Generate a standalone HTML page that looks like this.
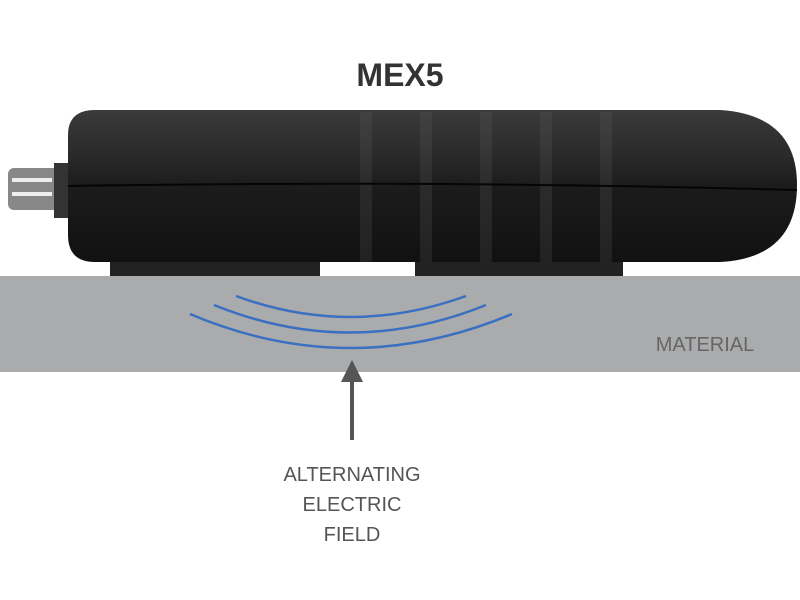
<!DOCTYPE html>
<html><head><style>
body{margin:0;width:800px;height:600px;background:#fff;position:relative;overflow:hidden;font-family:"Liberation Sans",sans-serif}
.t{position:absolute;color:#555;font-size:20px;text-align:center}
</style></head><body>
<div class="t" style="left:300px;top:57px;width:200px;font-size:32px;font-weight:bold;color:#333">MEX5</div>
<svg width="800" height="600" style="position:absolute;left:0;top:0">
<defs>
<linearGradient id="g" x1="0" y1="0" x2="0" y2="1">
<stop offset="0" stop-color="#3a3a3a"/><stop offset="0.3" stop-color="#2a2a2a"/><stop offset="0.5" stop-color="#1c1c1c"/><stop offset="1" stop-color="#111"/></linearGradient>
</defs>
<rect x="0" y="276" width="800" height="96" fill="#a9abad"/>
<rect x="110" y="262" width="210" height="14" fill="#222"/>
<rect x="415" y="262" width="208" height="14" fill="#222"/>
<rect x="8" y="168" width="60" height="42" rx="6" fill="#888"/>
<rect x="12" y="178" width="40" height="4" fill="#eee"/>
<rect x="12" y="192" width="40" height="4" fill="#eee"/>
<rect x="54" y="163" width="14" height="55" fill="#333"/>
<path d="M95 110 H720 Q797 115 797 185 Q797 258 720 262 H95 Q68 262 68 235 V135 Q68 110 95 110 Z" fill="url(#g)"/>
<g fill="#666" opacity="0.2">
<rect x="360" y="112" width="12" height="150"/><rect x="420" y="112" width="12" height="150"/><rect x="480" y="112" width="12" height="150"/><rect x="540" y="112" width="12" height="150"/><rect x="600" y="112" width="12" height="150"/>
</g>
<path d="M68 186 Q430 180 797 190" stroke="#050505" stroke-width="2" fill="none"/>
<g stroke="#3b6fc2" stroke-width="2.5" fill="none">
<path d="M236 296 Q350 338 466 296"/>
<path d="M214 305 Q350 360 486 305"/>
<path d="M190 314 Q350 382 512 314"/>
</g>
<line x1="352" y1="440" x2="352" y2="375" stroke="#555" stroke-width="4"/>
<polygon points="352,360 341,382 363,382" fill="#555"/>
</svg>
<div class="t" style="left:620px;top:334px;width:170px;color:#666">MATERIAL</div>
<div class="t" style="left:202px;top:460px;width:300px;line-height:30px">ALTERNATING<br>ELECTRIC<br>FIELD</div>
</body></html>
